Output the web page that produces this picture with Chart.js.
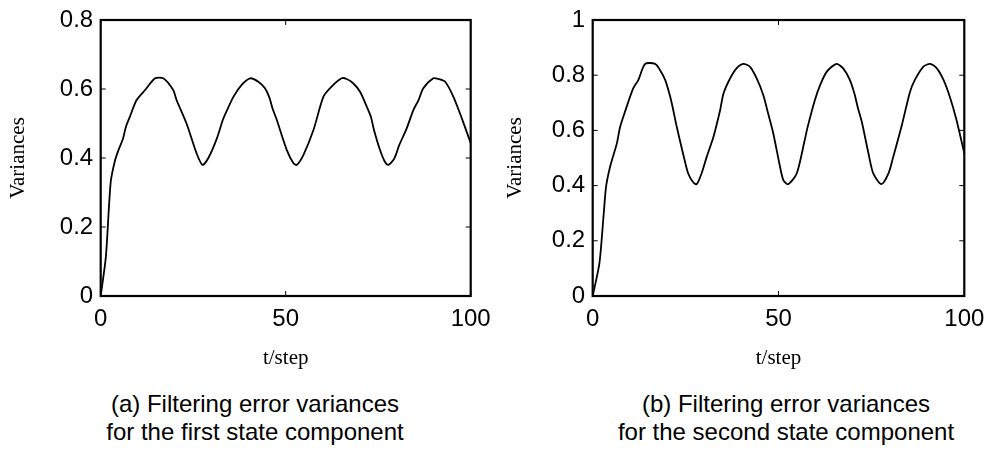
<!DOCTYPE html>
<html>
<head>
<meta charset="utf-8">
<script src="https://cdn.jsdelivr.net/npm/chart.js@4"></script>
<style>
  body { margin: 0; background: #fff; }
  #wrap { position: relative; width: 992px; height: 450px; }
  .box { position: absolute; top: 0; width: 496px; height: 380px; }
  .caption {
    position: absolute; top: 390px; width: 420px; text-align: center;
    font-family: "Liberation Sans", Arial, sans-serif; font-size: 24px; line-height: 28px; color: #000;
  }
</style>
</head>
<body>
<div id="wrap">
  <div class="box" style="left:0"><canvas id="chart-a" width="496" height="380"></canvas></div>
  <div class="box" style="left:496px"><canvas id="chart-b" width="496" height="380"></canvas></div>
  <div class="caption" style="left:45px">(a) Filtering error variances<br>for the first state component</div>
  <div class="caption" style="left:576px">(b) Filtering error variances<br>for the second state component</div>
</div>
<script>
// (a) first state component
const stepsA = [0, 1.4, 2.7, 3.9, 4.8, 6.0, 6.8, 7.9, 9.7, 12, 14.7, 16.9, 19.6, 20.5, 23.2, 25.9, 27.5, 29.1, 31.4,
  33.0, 34.0, 35.9, 38.1, 40.4, 42.6, 44.4, 45.6, 46.4, 47.6, 50.3, 52.1, 53, 54.8, 57.5, 60.2, 62.4, 65.1, 66.5, 68.3,
  70.1, 71.9, 73.0, 73.9, 75.5, 76.8, 77.7, 79.1, 79.8, 80.6, 82.7, 84.5, 85.9, 87.2, 89.9, 91.3, 93.1, 95.3, 97.6, 100];
const varA = [0, 0.114, 0.33, 0.394, 0.423, 0.455, 0.49, 0.52, 0.568, 0.597, 0.631, 0.631, 0.597, 0.568, 0.5, 0.414, 0.38, 0.4, 0.457,
  0.51, 0.535, 0.578, 0.612, 0.631, 0.621, 0.602, 0.575, 0.545, 0.51, 0.423, 0.385, 0.38, 0.409, 0.481, 0.578, 0.607, 0.631, 0.629, 0.616,
  0.592, 0.549, 0.52, 0.48, 0.423, 0.389, 0.38, 0.394, 0.41, 0.435, 0.486, 0.539, 0.568, 0.602, 0.631, 0.629, 0.621, 0.578, 0.515, 0.443];

// (b) second state component
const stepsB = [0, 1.8, 2.9, 3.6, 4.7, 6.5, 7.4, 8.7, 10.9, 12.3, 14.1, 16.8, 18.1, 19.5, 20.7, 21.5, 22.6, 24.4, 25.7, 27.1,
  28, 29.3, 30.7, 32.5, 34.3, 35.2, 37, 38.7, 40.5, 42.3, 44.1, 45.9, 47.2, 48.6, 50.4, 51.3, 52.6, 54.9, 56.9, 57.8,
  59.8, 61.2, 63, 65.6, 67.4, 69.2, 70.5, 71.3, 72.4, 74.2, 75.5, 77.7, 79.6, 80.9, 83.1, 85.4, 86.7, 89, 90.8,
  92.6, 94.4, 96.1, 97.9, 100];
const varB = [0, 0.118, 0.287, 0.396, 0.469, 0.553, 0.614, 0.668, 0.752, 0.783, 0.841, 0.841, 0.819, 0.783, 0.73, 0.685, 0.614, 0.511, 0.444, 0.411,
  0.405, 0.444, 0.505, 0.577, 0.674, 0.734, 0.789, 0.825, 0.841, 0.831, 0.789, 0.728, 0.662, 0.589, 0.469, 0.42, 0.405, 0.444, 0.555, 0.61,
  0.71, 0.764, 0.813, 0.841, 0.825, 0.783, 0.73, 0.685, 0.632, 0.517, 0.444, 0.405, 0.444, 0.505, 0.614, 0.74, 0.783, 0.831, 0.841,
  0.825, 0.783, 0.722, 0.638, 0.517];

const xTicks = [0, 50, 100];
const yMaxA = 0.8;
const yMaxB = 1;

// matlab style box with inward ticks
const boxPlugin = {
  id: 'matlabBox',
  afterDatasetsDraw(chart) {
    const { ctx, chartArea: a, scales } = chart;
    const len = 5;
    ctx.save();
    ctx.strokeStyle = '#000';
    ctx.lineWidth = 1;
    scales.x.ticks.forEach(t => {
      const px = scales.x.getPixelForValue(t.value);
      ctx.beginPath();
      ctx.moveTo(px, a.bottom); ctx.lineTo(px, a.bottom - len);
      ctx.moveTo(px, a.top); ctx.lineTo(px, a.top + len);
      ctx.stroke();
    });
    scales.y.ticks.forEach(t => {
      const py = scales.y.getPixelForValue(t.value);
      ctx.beginPath();
      ctx.moveTo(a.left, py); ctx.lineTo(a.left + len, py);
      ctx.moveTo(a.right, py); ctx.lineTo(a.right - len, py);
      ctx.stroke();
    });
    ctx.lineWidth = 2.2;
    ctx.strokeRect(a.left, a.top, a.right - a.left, a.bottom - a.top);
    ctx.restore();
  }
};

function makeChart(id, steps, values, yMax, opts) {
  const points = steps.map((t, i) => ({ x: t, y: values[i] }));
  return new Chart(document.getElementById(id), {
    type: 'line',
    data: {
      datasets: [{
        data: points,
        borderColor: '#000',
        borderWidth: 1.8,
        pointRadius: 0,
        fill: false,
        tension: 0.25
      }]
    },
    options: {
      responsive: false,
      animation: false,
      layout: { padding: { left: 0, top: 20, right: opts.padRight, bottom: 0 } },
      plugins: { legend: { display: false }, tooltip: { enabled: false } },
      scales: {
        x: {
          type: 'linear',
          min: 0, max: 100,
          afterBuildTicks: s => { s.ticks = xTicks.map(v => ({ value: v })); },
          afterFit: s => { s.height = 84; s.paddingLeft = 0; s.paddingRight = 0; },
          grid: { display: false, drawTicks: false },
          border: { display: false },
          ticks: { padding: 9, color: '#000', font: { family: 'Liberation Sans', size: 24 } },
          title: {
            display: true, text: 't/step', color: '#000',
            font: { family: 'Liberation Serif', size: 21 },
            padding: { top: 0, bottom: 9 }
          }
        },
        y: {
          min: 0, max: yMax,
          afterFit: s => { s.width = opts.yWidth; s.paddingTop = 0; s.paddingBottom = 0; },
          grid: { display: false, drawTicks: false },
          border: { display: false },
          ticks: {
            stepSize: 0.2, padding: 7.5, color: '#000', font: { family: 'Liberation Sans', size: 24 },
            callback: v => String(Number(v.toFixed(2)))
          },
          title: {
            display: true, text: 'Variances', color: '#000',
            font: { family: 'Liberation Serif', size: 21 },
            padding: { top: opts.titleGap, bottom: 0 }
          }
        }
      }
    },
    plugins: [boxPlugin]
  });
}

makeChart('chart-a', stepsA, varA, yMaxA, { padRight: 25.3, yWidth: 100.7, titleGap: 6 });
makeChart('chart-b', stepsB, varB, yMaxB, { padRight: 27.7, yWidth: 96.7, titleGap: 7 });
</script>
</body>
</html>
